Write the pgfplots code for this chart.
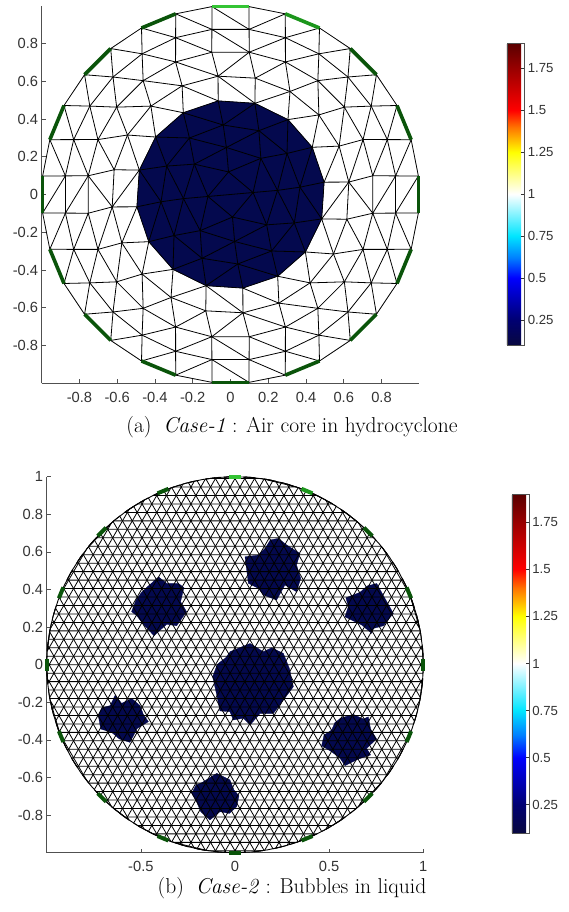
\documentclass[border=0pt]{standalone}
\usepackage{fontspec}
\usepackage{pgfplots}
\pgfplotsset{compat=1.18}
\newfontfamily\tickfont{Liberation Sans}
\definecolor{navyc}{RGB}{4,9,78}
\definecolor{gA}{RGB}{52,196,52}
\definecolor{gB}{RGB}{28,150,28}
\definecolor{gD}{RGB}{10,84,10}
\definecolor{axc}{RGB}{80,80,80}
\pgfplotsset{
 colormap={bwr}{rgb(10pt)=(0.03,0.03,0.25) rgb(25pt)=(0,0,0.45) rgb(50pt)=(0,0,1) rgb(62pt)=(0,0.5,1) rgb(75pt)=(0,0.9,1) rgb(100pt)=(1,1,1) rgb(125pt)=(1,1,0) rgb(140pt)=(1,0.45,0) rgb(150pt)=(1,0,0) rgb(175pt)=(0.6,0,0) rgb(190pt)=(0.35,0,0)},
 ml/.style={black, line width=0.8pt, data cs=polar, line join=round},
 gs/.style={data cs=polar, line width=3.6pt},
 panel/.style={scale only axis, xmin=-1, xmax=1, ymin=-1, ymax=1, clip=false,
  axis x line*=bottom, axis y line*=left, tick align=inside, major tick length=4pt,
  axis line style={axc, line width=0.6pt}, tick style={axc, line width=0.6pt},
  tick label style={font={\tickfont\fontsize{14.7}{17}\selectfont}, text=black!80},
  xticklabel style={yshift=-5pt},
  point meta min=0.1, point meta max=1.9, colormap name=bwr, colorbar,
  colorbar style={at={(parent axis.south east)}, anchor=south west, scale only axis, tick align=inside, major tick length=3pt,
   ytick={0.25,0.5,0.75,1,1.25,1.5,1.75}, yticklabels={0.25,0.5,0.75,1,1.25,1.5,1.75},
   ytick pos=right, yticklabel pos=right,
   axis line style={axc, line width=0.6pt}, tick style={black!80, line width=0.6pt},
   yticklabel style={font={\tickfont\fontsize{13.2}{15}\selectfont}, text=black!80}}}
}
\begin{document}
\begin{tikzpicture}
\path[use as bounding box] (0,0) rectangle (569pt,912pt);
% ---------------- panel (a)
\begin{axis}[panel, at={(41.7pt,528.7pt)}, anchor=south west, width=377.6pt, height=377.6pt,
 xtick={-0.8,-0.6,-0.4,-0.2,0,0.2,0.4,0.6,0.8}, xticklabels={-0.8,-0.6,-0.4,-0.2,0,0.2,0.4,0.6,0.8},
 ytick={-0.8,-0.6,-0.4,-0.2,0,0.2,0.4,0.6,0.8}, yticklabels={-0.8,-0.6,-0.4,-0.2,0,0.2,0.4,0.6,0.8},
 colorbar style={xshift=79pt, yshift=38.3pt, width=17.4pt, height=301.7pt}]
% air core
\addplot[fill=navyc, draw=navyc, line width=0.3pt, data cs=polar] coordinates {(7.5,0.5)(30,0.5)(52.5,0.5)(75,0.5)(97.5,0.5)(120,0.5)(142.5,0.5)(165,0.5)(187.5,0.5)(210,0.5)(232.5,0.5)(255,0.5)(277.5,0.5)(300,0.5)(322.5,0.5)(345,0.5)(367.5,0.5)};
% rings
\addplot[ml] coordinates {(6.43,0.88)(19.29,0.88)(32.14,0.88)(45,0.88)(57.86,0.88)(70.71,0.88)(83.57,0.88)(96.43,0.88)(109.29,0.88)(122.14,0.88)(135,0.88)(147.86,0.88)(160.71,0.88)(173.57,0.88)(186.43,0.88)(199.29,0.88)(212.14,0.88)(225,0.88)(237.86,0.88)(250.71,0.88)(263.57,0.88)(276.43,0.88)(289.29,0.88)(302.14,0.88)(315,0.88)(327.86,0.88)(340.71,0.88)(353.57,0.88)(366.43,0.88)};
\addplot[ml] coordinates {(7.5,0.76)(22.5,0.76)(37.5,0.76)(52.5,0.76)(67.5,0.76)(82.5,0.76)(97.5,0.76)(112.5,0.76)(127.5,0.76)(142.5,0.76)(157.5,0.76)(172.5,0.76)(187.5,0.76)(202.5,0.76)(217.5,0.76)(232.5,0.76)(247.5,0.76)(262.5,0.76)(277.5,0.76)(292.5,0.76)(307.5,0.76)(322.5,0.76)(337.5,0.76)(352.5,0.76)(367.5,0.76)};
\addplot[ml] coordinates {(6,0.63)(24,0.63)(42,0.63)(60,0.63)(78,0.63)(96,0.63)(114,0.63)(132,0.63)(150,0.63)(168,0.63)(186,0.63)(204,0.63)(222,0.63)(240,0.63)(258,0.63)(276,0.63)(294,0.63)(312,0.63)(330,0.63)(348,0.63)(366,0.63)};
\addplot[ml] coordinates {(7.5,0.5)(30,0.5)(52.5,0.5)(75,0.5)(97.5,0.5)(120,0.5)(142.5,0.5)(165,0.5)(187.5,0.5)(210,0.5)(232.5,0.5)(255,0.5)(277.5,0.5)(300,0.5)(322.5,0.5)(345,0.5)(367.5,0.5)};
\addplot[ml] coordinates {(6,0.37)(36,0.37)(66,0.37)(96,0.37)(126,0.37)(156,0.37)(186,0.37)(216,0.37)(246,0.37)(276,0.37)(306,0.37)(336,0.37)(366,0.37)};
\addplot[ml] coordinates {(5,0.25)(50,0.25)(95,0.25)(140,0.25)(185,0.25)(230,0.25)(275,0.25)(320,0.25)(365,0.25)};
\addplot[ml] coordinates {(5,0.12)(95,0.12)(185,0.12)(275,0.12)(365,0.12)};
\addplot[ml] coordinates {(5,0.12)(185,0.12)};
% strips between rings
\addplot[ml] coordinates {(5.625,1)(6.43,0.88)(16.875,1)(19.29,0.88)(28.125,1)(32.14,0.88)(39.375,1)(45,0.88)(50.625,1)(57.86,0.88)(61.875,1)(70.71,0.88)(73.125,1)(83.57,0.88)(84.375,1)(83.57,0.88)(95.625,1)(96.43,0.88)(106.875,1)(109.29,0.88)(118.125,1)(122.14,0.88)(129.375,1)(135,0.88)(140.625,1)(147.86,0.88)(151.875,1)(160.71,0.88)(163.125,1)(173.57,0.88)(174.375,1)(173.57,0.88)(185.625,1)(186.43,0.88)(196.875,1)(199.29,0.88)(208.125,1)(212.14,0.88)(219.375,1)(225,0.88)(230.625,1)(237.86,0.88)(241.875,1)(250.71,0.88)(253.125,1)(263.57,0.88)(264.375,1)(263.57,0.88)(275.625,1)(276.43,0.88)(286.875,1)(289.29,0.88)(298.125,1)(302.14,0.88)(309.375,1)(315,0.88)(320.625,1)(327.86,0.88)(331.875,1)(340.71,0.88)(343.125,1)(353.57,0.88)(354.375,1)(353.57,0.88)(365.625,1)};
\addplot[ml] coordinates {(6.43,0.88)(7.5,0.76)(19.29,0.88)(22.5,0.76)(32.14,0.88)(37.5,0.76)(45,0.88)(52.5,0.76)(57.86,0.88)(67.5,0.76)(70.71,0.88)(82.5,0.76)(83.57,0.88)(82.5,0.76)(96.43,0.88)(97.5,0.76)(109.29,0.88)(112.5,0.76)(122.14,0.88)(127.5,0.76)(135,0.88)(142.5,0.76)(147.86,0.88)(157.5,0.76)(160.71,0.88)(172.5,0.76)(173.57,0.88)(172.5,0.76)(186.43,0.88)(187.5,0.76)(199.29,0.88)(202.5,0.76)(212.14,0.88)(217.5,0.76)(225,0.88)(232.5,0.76)(237.86,0.88)(247.5,0.76)(250.71,0.88)(262.5,0.76)(263.57,0.88)(262.5,0.76)(276.43,0.88)(277.5,0.76)(289.29,0.88)(292.5,0.76)(302.14,0.88)(307.5,0.76)(315,0.88)(322.5,0.76)(327.86,0.88)(337.5,0.76)(340.71,0.88)(352.5,0.76)(353.57,0.88)(352.5,0.76)(366.43,0.88)};
\addplot[ml] coordinates {(6,0.63)(7.5,0.76)(6,0.63)(22.5,0.76)(24,0.63)(37.5,0.76)(42,0.63)(52.5,0.76)(60,0.63)(67.5,0.76)(78,0.63)(82.5,0.76)(96,0.63)(97.5,0.76)(96,0.63)(112.5,0.76)(114,0.63)(127.5,0.76)(132,0.63)(142.5,0.76)(150,0.63)(157.5,0.76)(168,0.63)(172.5,0.76)(186,0.63)(187.5,0.76)(186,0.63)(202.5,0.76)(204,0.63)(217.5,0.76)(222,0.63)(232.5,0.76)(240,0.63)(247.5,0.76)(258,0.63)(262.5,0.76)(276,0.63)(277.5,0.76)(276,0.63)(292.5,0.76)(294,0.63)(307.5,0.76)(312,0.63)(322.5,0.76)(330,0.63)(337.5,0.76)(348,0.63)(352.5,0.76)(366,0.63)};
\addplot[ml] coordinates {(6,0.63)(7.5,0.5)(24,0.63)(30,0.5)(42,0.63)(52.5,0.5)(60,0.63)(75,0.5)(78,0.63)(75,0.5)(96,0.63)(97.5,0.5)(114,0.63)(120,0.5)(132,0.63)(142.5,0.5)(150,0.63)(165,0.5)(168,0.63)(165,0.5)(186,0.63)(187.5,0.5)(204,0.63)(210,0.5)(222,0.63)(232.5,0.5)(240,0.63)(255,0.5)(258,0.63)(255,0.5)(276,0.63)(277.5,0.5)(294,0.63)(300,0.5)(312,0.63)(322.5,0.5)(330,0.63)(345,0.5)(348,0.63)(345,0.5)(366,0.63)};
\addplot[ml] coordinates {(6,0.37)(7.5,0.5)(6,0.37)(30,0.5)(36,0.37)(52.5,0.5)(66,0.37)(75,0.5)(96,0.37)(97.5,0.5)(96,0.37)(120,0.5)(126,0.37)(142.5,0.5)(156,0.37)(165,0.5)(186,0.37)(187.5,0.5)(186,0.37)(210,0.5)(216,0.37)(232.5,0.5)(246,0.37)(255,0.5)(276,0.37)(277.5,0.5)(276,0.37)(300,0.5)(306,0.37)(322.5,0.5)(336,0.37)(345,0.5)(366,0.37)};
\addplot[ml] coordinates {(5,0.25)(6,0.37)(5,0.25)(36,0.37)(50,0.25)(66,0.37)(95,0.25)(96,0.37)(95,0.25)(126,0.37)(140,0.25)(156,0.37)(185,0.25)(186,0.37)(185,0.25)(216,0.37)(230,0.25)(246,0.37)(275,0.25)(276,0.37)(275,0.25)(306,0.37)(320,0.25)(336,0.37)(365,0.25)};
\addplot[ml] coordinates {(5,0.12)(5,0.25)(5,0.12)(50,0.25)(95,0.12)(95,0.25)(95,0.12)(140,0.25)(185,0.12)(185,0.25)(185,0.12)(230,0.25)(275,0.12)(275,0.25)(275,0.12)(320,0.25)(365,0.12)};
% boundary
\addplot[ml] coordinates {(5.625,1)(16.875,1)(28.125,1)(39.375,1)(50.625,1)(61.875,1)(73.125,1)(84.375,1)(95.625,1)(106.875,1)(118.125,1)(129.375,1)(140.625,1)(151.875,1)(163.125,1)(174.375,1)(185.625,1)(196.875,1)(208.125,1)(219.375,1)(230.625,1)(241.875,1)(253.125,1)(264.375,1)(275.625,1)(286.875,1)(298.125,1)(309.375,1)(320.625,1)(331.875,1)(343.125,1)(354.375,1)(365.625,1)};
% boundary condition segments
\addplot[gs, gD] coordinates {(-5.625,1)(5.625,1)};
\addplot[gs, gD] coordinates {(16.875,1)(28.125,1)};
\addplot[gs, gD] coordinates {(39.375,1)(50.625,1)};
\addplot[gs, gB] coordinates {(61.875,1)(73.125,1)};
\addplot[gs, gA] coordinates {(84.375,1)(95.625,1)};
\addplot[gs, gD] coordinates {(106.875,1)(118.125,1)};
\addplot[gs, gD] coordinates {(129.375,1)(140.625,1)};
\addplot[gs, gD] coordinates {(151.875,1)(163.125,1)};
\addplot[gs, gD] coordinates {(174.375,1)(185.625,1)};
\addplot[gs, gD] coordinates {(196.875,1)(208.125,1)};
\addplot[gs, gD] coordinates {(219.375,1)(230.625,1)};
\addplot[gs, gD] coordinates {(241.875,1)(253.125,1)};
\addplot[gs, gD] coordinates {(264.375,1)(275.625,1)};
\addplot[gs, gD] coordinates {(286.875,1)(298.125,1)};
\addplot[gs, gD] coordinates {(309.375,1)(320.625,1)};
\addplot[gs, gD] coordinates {(331.875,1)(343.125,1)};
\end{axis}
\node[anchor=base, inner sep=0pt, font=\fontsize{21.5}{26}\selectfont] at (292pt,479.3pt) {(a)\hspace{0.55em}\textit{Case-1} : Air core in hydrocyclone};
% ---------------- panel (b)
\begin{axis}[panel, at={(46.7pt,59.3pt)}, anchor=south west, width=376.6pt, height=376pt,
 xtick={-0.5,0,0.5,1}, xticklabels={-0.5,0,0.5,1},
 ytick={-0.8,-0.6,-0.4,-0.2,0,0.2,0.4,0.6,0.8,1}, yticklabels={-0.8,-0.6,-0.4,-0.2,0,0.2,0.4,0.6,0.8,1},
 colorbar style={xshift=80pt, yshift=19.7pt, width=17pt, height=339pt}]
% bubbles
\addplot[fill=navyc, draw=navyc, line width=0.3pt] coordinates {(-0.027,0.069)(0.080,0.113)(0.150,0.069)(0.195,0.090)(0.257,0.060)(0.289,-0.020)(0.310,-0.117)(0.257,-0.188)(0.204,-0.259)(0.133,-0.259)(0.080,-0.321)(0.044,-0.285)(-0.009,-0.294)(-0.027,-0.250)(-0.080,-0.246)(-0.097,-0.161)(-0.119,-0.064)(-0.094,0.002)(-0.053,0.034)};
\addplot[fill=navyc, draw=navyc, line width=0.3pt] coordinates {(0.186,0.663)(0.230,0.672)(0.274,0.637)(0.345,0.592)(0.327,0.530)(0.349,0.459)(0.327,0.388)(0.265,0.424)(0.221,0.344)(0.150,0.371)(0.124,0.406)(0.071,0.433)(0.062,0.504)(0.053,0.574)(0.124,0.583)(0.159,0.619)};
\addplot[fill=navyc, draw=navyc, line width=0.3pt] coordinates {(0.752,0.433)(0.791,0.362)(0.841,0.273)(0.788,0.207)(0.735,0.193)(0.726,0.167)(0.673,0.211)(0.584,0.255)(0.602,0.309)(0.589,0.356)(0.664,0.385)(0.703,0.420)};
\addplot[fill=navyc, draw=navyc, line width=0.3pt] coordinates {(-0.407,0.468)(-0.363,0.433)(-0.301,0.433)(-0.271,0.410)(-0.289,0.335)(-0.257,0.282)(-0.310,0.207)(-0.363,0.215)(-0.430,0.154)(-0.487,0.215)(-0.522,0.261)(-0.549,0.282)(-0.526,0.344)(-0.496,0.385)(-0.455,0.424)};
\addplot[fill=navyc, draw=navyc, line width=0.3pt] coordinates {(-0.637,-0.161)(-0.602,-0.206)(-0.549,-0.179)(-0.504,-0.218)(-0.487,-0.264)(-0.460,-0.303)(-0.519,-0.339)(-0.558,-0.413)(-0.614,-0.395)(-0.655,-0.360)(-0.713,-0.342)(-0.726,-0.271)(-0.708,-0.229)(-0.664,-0.218)};
\addplot[fill=navyc, draw=navyc, line width=0.3pt] coordinates {(0.558,-0.285)(0.628,-0.264)(0.682,-0.289)(0.708,-0.277)(0.720,-0.342)(0.752,-0.395)(0.699,-0.445)(0.720,-0.480)(0.655,-0.502)(0.584,-0.537)(0.558,-0.498)(0.513,-0.463)(0.460,-0.431)(0.473,-0.374)(0.513,-0.348)(0.531,-0.307)};
\addplot[fill=navyc, draw=navyc, line width=0.3pt] coordinates {(-0.168,-0.622)(-0.097,-0.578)(-0.027,-0.613)(-0.005,-0.667)(0.021,-0.697)(0.009,-0.755)(-0.030,-0.791)(-0.080,-0.782)(-0.133,-0.826)(-0.182,-0.782)(-0.204,-0.729)(-0.230,-0.684)(-0.207,-0.640)};
% fine triangular mesh: three families of chords
\addplot[ml] coordinates {(-81.89,1)(261.89,1)(250.91,1)(-70.91,1)(-64.16,1)(244.16,1)(238.76,1)(-58.76,1)(-54.10,1)(234.10,1)(229.91,1)(-49.91,1)(-46.05,1)(226.05,1)(222.45,1)(-42.45,1)(-39.05,1)(219.05,1)(215.80,1)(-35.80,1)(-32.68,1)(212.68,1)(209.67,1)(-29.67,1)(-26.74,1)(206.74,1)(203.89,1)(-23.89,1)(-21.10,1)(201.10,1)(198.36,1)(-18.36,1)(-15.66,1)(195.66,1)(193.00,1)(-13.00,1)(-10.37,1)(190.37,1)(187.76,1)(-7.76,1)(-5.16,1)(185.16,1)(182.58,1)(-2.58,1)(0,1)(180,1)(177.42,1)(2.58,1)(5.16,1)(174.84,1)(172.24,1)(7.76,1)(10.37,1)(169.63,1)(167.00,1)(13.00,1)(15.66,1)(164.34,1)(161.64,1)(18.36,1)(21.10,1)(158.90,1)(156.11,1)(23.89,1)(26.74,1)(153.26,1)(150.33,1)(29.67,1)(32.68,1)(147.32,1)(144.20,1)(35.80,1)(39.05,1)(140.95,1)(137.55,1)(42.45,1)(46.05,1)(133.95,1)(130.09,1)(49.91,1)(54.10,1)(125.90,1)(121.24,1)(58.76,1)(64.16,1)(115.84,1)(109.09,1)(70.91,1)(81.89,1)(98.11,1)};
\addplot[ml] coordinates {(-141.89,1)(201.89,1)(190.91,1)(-130.91,1)(-124.16,1)(184.16,1)(178.76,1)(-118.76,1)(-114.10,1)(174.10,1)(169.91,1)(-109.91,1)(-106.05,1)(166.05,1)(162.45,1)(-102.45,1)(-99.05,1)(159.05,1)(155.80,1)(-95.80,1)(-92.68,1)(152.68,1)(149.67,1)(-89.67,1)(-86.74,1)(146.74,1)(143.89,1)(-83.89,1)(-81.10,1)(141.10,1)(138.36,1)(-78.36,1)(-75.66,1)(135.66,1)(133.00,1)(-73.00,1)(-70.37,1)(130.37,1)(127.76,1)(-67.76,1)(-65.16,1)(125.16,1)(122.58,1)(-62.58,1)(-60,1)(120,1)(117.42,1)(-57.42,1)(-54.84,1)(114.84,1)(112.24,1)(-52.24,1)(-49.63,1)(109.63,1)(107.00,1)(-47.00,1)(-44.34,1)(104.34,1)(101.64,1)(-41.64,1)(-38.90,1)(98.90,1)(96.11,1)(-36.11,1)(-33.26,1)(93.26,1)(90.33,1)(-30.33,1)(-27.32,1)(87.32,1)(84.20,1)(-24.20,1)(-20.95,1)(80.95,1)(77.55,1)(-17.55,1)(-13.95,1)(73.95,1)(70.09,1)(-10.09,1)(-5.90,1)(65.90,1)(61.24,1)(-1.24,1)(4.16,1)(55.84,1)(49.09,1)(10.91,1)(21.89,1)(38.11,1)};
\addplot[ml] coordinates {(-21.89,1)(321.89,1)(310.91,1)(-10.91,1)(-4.16,1)(304.16,1)(298.76,1)(1.24,1)(5.90,1)(294.10,1)(289.91,1)(10.09,1)(13.95,1)(286.05,1)(282.45,1)(17.55,1)(20.95,1)(279.05,1)(275.80,1)(24.20,1)(27.32,1)(272.68,1)(269.67,1)(30.33,1)(33.26,1)(266.74,1)(263.89,1)(36.11,1)(38.90,1)(261.10,1)(258.36,1)(41.64,1)(44.34,1)(255.66,1)(253.00,1)(47.00,1)(49.63,1)(250.37,1)(247.76,1)(52.24,1)(54.84,1)(245.16,1)(242.58,1)(57.42,1)(60,1)(240,1)(237.42,1)(62.58,1)(65.16,1)(234.84,1)(232.24,1)(67.76,1)(70.37,1)(229.63,1)(227.00,1)(73.00,1)(75.66,1)(224.34,1)(221.64,1)(78.36,1)(81.10,1)(218.90,1)(216.11,1)(83.89,1)(86.74,1)(213.26,1)(210.33,1)(89.67,1)(92.68,1)(207.32,1)(204.20,1)(95.80,1)(99.05,1)(200.95,1)(197.55,1)(102.45,1)(106.05,1)(193.95,1)(190.09,1)(109.91,1)(114.10,1)(185.90,1)(181.24,1)(118.76,1)(124.16,1)(175.84,1)(169.09,1)(130.91,1)(141.89,1)(158.11,1)};
% boundary
\addplot[ml, line width=0.9pt] coordinates {(0,1)(5,1)(10,1)(15,1)(20,1)(25,1)(30,1)(35,1)(40,1)(45,1)(50,1)(55,1)(60,1)(65,1)(70,1)(75,1)(80,1)(85,1)(90,1)(95,1)(100,1)(105,1)(110,1)(115,1)(120,1)(125,1)(130,1)(135,1)(140,1)(145,1)(150,1)(155,1)(160,1)(165,1)(170,1)(175,1)(180,1)(185,1)(190,1)(195,1)(200,1)(205,1)(210,1)(215,1)(220,1)(225,1)(230,1)(235,1)(240,1)(245,1)(250,1)(255,1)(260,1)(265,1)(270,1)(275,1)(280,1)(285,1)(290,1)(295,1)(300,1)(305,1)(310,1)(315,1)(320,1)(325,1)(330,1)(335,1)(340,1)(345,1)(350,1)(355,1)(360,1)};
% boundary condition marks
\addplot[gs, gD, line width=4pt] coordinates {(-1.8,1)(1.8,1)};
\addplot[gs, gD, line width=4pt] coordinates {(20.7,1)(24.3,1)};
\addplot[gs, gD, line width=4pt] coordinates {(43.2,1)(46.8,1)};
\addplot[gs, gB, line width=4pt] coordinates {(65.7,1)(69.3,1)};
\addplot[gs, gA, line width=4pt] coordinates {(88.2,1)(91.8,1)};
\addplot[gs, gD, line width=4pt] coordinates {(110.7,1)(114.3,1)};
\addplot[gs, gD, line width=4pt] coordinates {(133.2,1)(136.8,1)};
\addplot[gs, gD, line width=4pt] coordinates {(155.7,1)(159.3,1)};
\addplot[gs, gD, line width=4pt] coordinates {(178.2,1)(181.8,1)};
\addplot[gs, gD, line width=4pt] coordinates {(200.7,1)(204.3,1)};
\addplot[gs, gD, line width=4pt] coordinates {(223.2,1)(226.8,1)};
\addplot[gs, gD, line width=4pt] coordinates {(245.7,1)(249.3,1)};
\addplot[gs, gD, line width=4pt] coordinates {(268.2,1)(271.8,1)};
\addplot[gs, gD, line width=4pt] coordinates {(290.7,1)(294.3,1)};
\addplot[gs, gD, line width=4pt] coordinates {(313.2,1)(316.8,1)};
\addplot[gs, gD, line width=4pt] coordinates {(335.7,1)(339.3,1)};
\end{axis}
\node[anchor=base, inner sep=0pt, font=\fontsize{21.5}{26}\selectfont] at (292pt,18.3pt) {(b)\hspace{0.55em}\textit{Case-2} : Bubbles in liquid};
\end{tikzpicture}
\end{document}
